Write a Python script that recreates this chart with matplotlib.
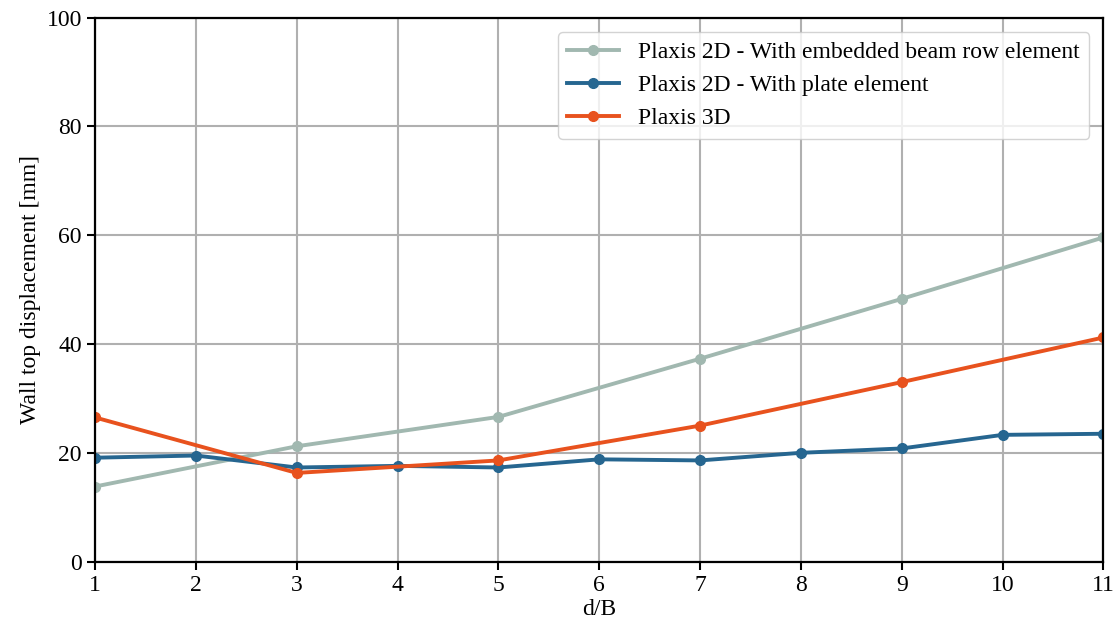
import matplotlib.pyplot as plt

plt.rcParams['font.family'] = ['Liberation Serif', 'DejaVu Serif']
plt.rcParams['font.size'] = 17

x_odd = [1, 3, 5, 7, 9, 11]
x_all = [1, 2, 3, 4, 5, 6, 7, 8, 9, 10, 11]

embedded_beam = [13.8, 21.2, 26.6, 37.3, 48.3, 59.6]
plate = [19.1, 19.5, 17.3, 17.6, 17.3, 18.8, 18.6, 20.0, 20.8, 23.3, 23.5]
plaxis_3d = [26.5, 16.3, 18.6, 25.0, 33.0, 41.2]

labels = ["Plaxis 2D - With embedded beam row element",
          "Plaxis 2D - With plate element",
          "Plaxis 3D"]

fig, ax = plt.subplots(figsize=(11.18, 6.31), dpi=100)
fig.subplots_adjust(left=0.085, right=0.987, top=0.972, bottom=0.11)

ax.plot(x_odd, embedded_beam, '-o', color='#a1b8b0', lw=2.8, ms=7, label=labels[0])
ax.plot(x_all, plate, '-o', color='#266690', lw=2.8, ms=7, label=labels[1])
ax.plot(x_odd, plaxis_3d, '-o', color='#e8521e', lw=2.8, ms=7, label=labels[2])

ax.set_xlim(1, 11)
ax.set_ylim(0, 100)
ax.set_xticks(x_all)
ax.set_yticks([0, 20, 40, 60, 80, 100])
ax.grid(True, color='#b0b0b0', lw=1.5)
ax.set_xlabel("d/B", labelpad=2)
ax.set_ylabel("Wall top displacement [mm]")
for s in ax.spines.values():
    s.set_linewidth(1.6)
ax.tick_params(width=1.5, length=6)

leg = ax.legend(loc='upper right', fontsize=17, framealpha=0.8, handlelength=2.2,
                borderaxespad=0.6)
leg.get_frame().set_edgecolor('#c8c8c8')

plt.savefig("out.png")
